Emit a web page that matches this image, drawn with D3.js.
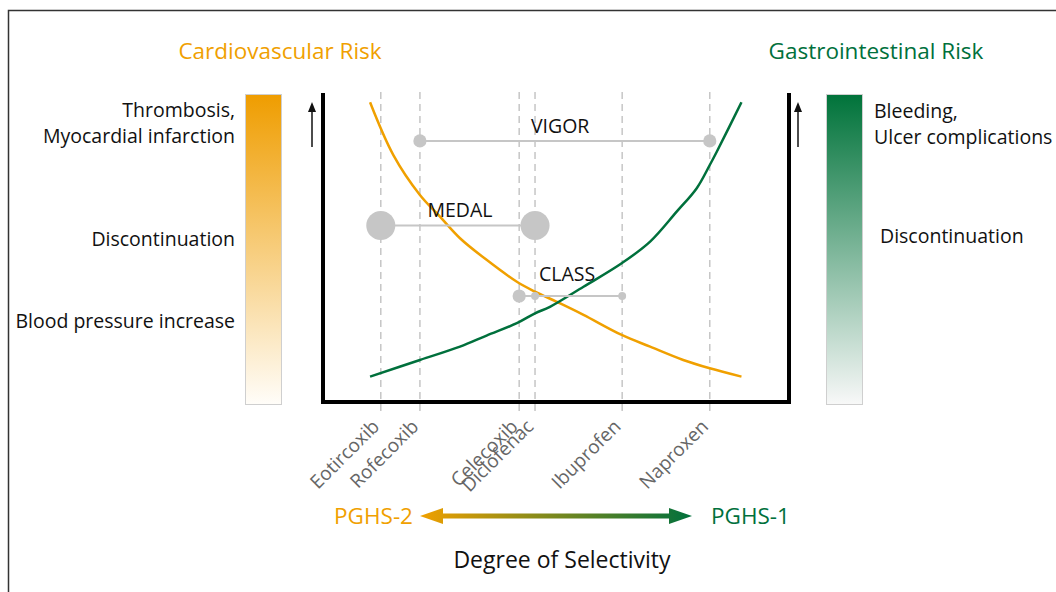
<!DOCTYPE html>
<html>
<head>
<meta charset="utf-8">
<script src="https://cdn.jsdelivr.net/npm/d3@7"></script>
<style>
  body { margin: 0; background: #fff; }
  svg { display: block; }
  text { font-family: "Open Sans", "DejaVu Sans", sans-serif; }
</style>
</head>
<body>
<svg id="chart" width="1056" height="592"></svg>
<script>
// drugs on the selectivity axis (0 = PGHS-2 selective ... 100 = PGHS-1)
const drugs = ["Eotircoxib", "Rofecoxib", "Celecoxib", "Diclofenac", "Ibuprofen", "Naproxen"];
const drugSel = [12.4, 20.8, 42.1, 45.5, 64.2, 83.0];

// cardiovascular risk curve (orange)
const cvSel = [10.1, 15.1, 20.8, 25.1, 29.4, 35.1, 41.6, 45.5, 50.9, 55.9, 64.1, 70.2, 77.3, 83.0, 89.8];
const cvRisk = [97.0, 79.9, 67.0, 60.0, 53.0, 46.0, 38.9, 35.7, 31.9, 28.2, 21.7, 17.9, 13.6, 10.9, 8.2];

// gastrointestinal risk curve (green)
const giSel = [10.1, 20.8, 29.4, 35.1, 41.6, 45.5, 48.7, 55.9, 64.1, 70.2, 75.9, 80.2, 83.0, 84.5, 89.8];
const giRisk = [8.2, 13.6, 17.9, 21.5, 25.5, 28.7, 30.8, 37.3, 44.9, 51.9, 61.6, 69.2, 76.7, 81.0, 97.0];

// trials comparing drugs
const trials = ["VIGOR", "MEDAL", "CLASS"];
const trialLevel = [84.5, 57.1, 34.3];
const trialDrugs = [["Rofecoxib", "Naproxen"], ["Eotircoxib", "Diclofenac"], ["Celecoxib", "Diclofenac", "Ibuprofen"]];
const trialWeight = [[1, 1], [2.2, 2.2], [1, 0.6, 0.6]];
const trialLabelSel = [50.9, 29.4, 52.4];
const trialLabelLevel = [87.1, 59.9, 39.2];

const cvLevels = ["Thrombosis,|Myocardial infarction", "Discontinuation", "Blood pressure increase"];
const giLevels = ["Bleeding,|Ulcer complications", "Discontinuation"];

const orange = "#f0a000", green = "#00703c", grey = "#c6c6c6";

let svg = d3.select("#chart");

let x = d3.scaleLinear().domain([0, 100]).range([323, 789]);
let y = d3.scaleLinear().domain([0, 100]).range([402, 93]);
let r = d3.scaleLinear().domain([0, 1]).range([0, 6.6]);

let defs = svg.append("defs");
function vGrad(id, top, bottom) {
    let g = defs.append("linearGradient").attr("id", id)
        .attr("x1", 0).attr("y1", 0).attr("x2", 0).attr("y2", 1);
    g.append("stop").attr("offset", "0%").attr("stop-color", top);
    g.append("stop").attr("offset", "100%").attr("stop-color", bottom);
}
vGrad("cvGrad", "#ef9d00", "#fffdf9");
vGrad("giGrad", "#00733a", "#f8f8f8");
let hg = defs.append("linearGradient").attr("id", "selGrad")
    .attr("gradientUnits", "userSpaceOnUse")
    .attr("x1", 420).attr("x2", 692).attr("y1", 0).attr("y2", 0);
hg.append("stop").attr("offset", "0%").attr("stop-color", orange);
hg.append("stop").attr("offset", "100%").attr("stop-color", green);

// outer frame (left + top edges)
svg.append("path")
    .attr("d", "M8.5,592 V10.5 H1056")
    .attr("fill", "none").attr("stroke", "#333").attr("stroke-width", 1.5);

// titles
svg.append("text").attr("x", 280).attr("y", 59).attr("text-anchor", "middle")
    .attr("font-size", 22.5).attr("fill", orange).text("Cardiovascular Risk");
svg.append("text").attr("x", 876).attr("y", 59).attr("text-anchor", "middle")
    .attr("font-size", 22.5).attr("fill", green).text("Gastrointestinal Risk");

// colour bars
svg.append("rect").attr("x", 245.5).attr("y", 94.5).attr("width", 36).attr("height", 310)
    .attr("fill", "url(#cvGrad)").attr("stroke", "#cfcfcf").attr("stroke-width", 1);
svg.append("rect").attr("x", 826.5).attr("y", 94.5).attr("width", 36).attr("height", 310)
    .attr("fill", "url(#giGrad)").attr("stroke", "#cfcfcf").attr("stroke-width", 1);

// level labels
let cvY = [117, 246, 328];
cvLevels.forEach(function (t, i) {
    let lines = t.split("|");
    let txt = svg.append("text").attr("x", 235).attr("y", cvY[i]).attr("text-anchor", "end")
        .attr("font-size", 19.5).attr("fill", "#111");
    lines.forEach(function (l, j) {
        txt.append("tspan").attr("x", 235).attr("dy", j === 0 ? 0 : 26).text(l);
    });
});
let giY = [118, 243];
let giX = [874, 880];
giLevels.forEach(function (t, i) {
    let lines = t.split("|");
    let txt = svg.append("text").attr("x", giX[i]).attr("y", giY[i])
        .attr("font-size", 19.5).attr("fill", "#111");
    lines.forEach(function (l, j) {
        txt.append("tspan").attr("x", giX[i]).attr("dy", j === 0 ? 0 : 26).text(l);
    });
});

// small up arrows
function upArrow(ax) {
    svg.append("line").attr("x1", ax).attr("x2", ax).attr("y1", 147).attr("y2", 110)
        .attr("stroke", "#111").attr("stroke-width", 1.5);
    svg.append("path").attr("d", "M" + (ax - 4) + ",112 L" + ax + ",102 L" + (ax + 4) + ",112 Z")
        .attr("fill", "#111");
}
upArrow(312);
upArrow(798);

// dashed drug lines
svg.append("g").selectAll("line")
    .data(drugSel)
    .enter()
    .append("line")
    .attr("x1", function (d) { return x(d); })
    .attr("x2", function (d) { return x(d); })
    .attr("y1", 92).attr("y2", 413)
    .attr("stroke", grey).attr("stroke-width", 1.5)
    .attr("stroke-dasharray", "7,5");

// drug labels
svg.append("g").selectAll("text")
    .data(drugs)
    .enter()
    .append("text")
    .attr("transform", function (d, i) { return "translate(" + (x(drugSel[i]) - 5) + ",423) rotate(-45)"; })
    .attr("text-anchor", "end")
    .attr("dy", "0.35em")
    .attr("font-size", 19)
    .attr("fill", "#666")
    .text(function (d) { return d; });

// risk curves
let line = d3.line()
    .x(function (d) { return x(d[0]); })
    .y(function (d) { return y(d[1]); })
    .curve(d3.curveCatmullRom);
svg.append("path").datum(d3.zip(cvSel, cvRisk))
    .attr("d", line).attr("fill", "none").attr("stroke", orange).attr("stroke-width", 2.5);
svg.append("path").datum(d3.zip(giSel, giRisk))
    .attr("d", line).attr("fill", "none").attr("stroke", green).attr("stroke-width", 2.5);

// trials
trials.forEach(function (t, i) {
    let sel = trialDrugs[i].map(function (n) { return drugSel[drugs.indexOf(n)]; });
    let g = svg.append("g");
    g.append("line")
        .attr("x1", x(d3.min(sel))).attr("x2", x(d3.max(sel)))
        .attr("y1", y(trialLevel[i])).attr("y2", y(trialLevel[i]))
        .attr("stroke", grey).attr("stroke-width", 2);
    g.selectAll("circle")
        .data(sel)
        .enter()
        .append("circle")
        .attr("cx", function (d) { return x(d); })
        .attr("cy", y(trialLevel[i]))
        .attr("r", function (d, j) { return r(trialWeight[i][j]); })
        .attr("fill", grey);
    g.append("text")
        .attr("x", x(trialLabelSel[i])).attr("y", y(trialLabelLevel[i]))
        .attr("text-anchor", "middle").attr("font-size", 19.5).attr("fill", "#111")
        .text(t);
});

// plot frame: left, bottom, right
svg.append("path")
    .attr("d", "M323,93 V402 H789 V93")
    .attr("fill", "none").attr("stroke", "#000").attr("stroke-width", 4);

// selectivity arrow
svg.append("path")
    .attr("d", "M420,516 L443,508 L443,513.5 L669,513.5 L669,508 L692,516 L669,524 L669,518.5 L443,518.5 L443,524 Z")
    .attr("fill", "url(#selGrad)");
svg.append("text").attr("x", 413).attr("y", 524).attr("text-anchor", "end")
    .attr("font-size", 22.5).attr("fill", orange).text("PGHS-2");
svg.append("text").attr("x", 711).attr("y", 524)
    .attr("font-size", 22.5).attr("fill", green).text("PGHS-1");
svg.append("text").attr("x", 562).attr("y", 568).attr("text-anchor", "middle")
    .attr("font-size", 23).attr("fill", "#111").text("Degree of Selectivity");
</script>
</body>
</html>
